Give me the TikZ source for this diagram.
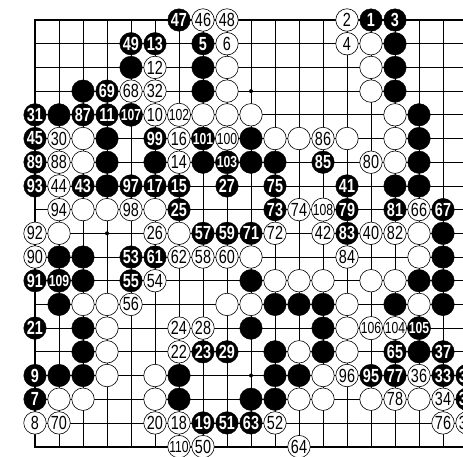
\documentclass[tikz,border=0pt]{standalone}
\usepackage{fontspec}
\usepackage{tikz}
\newfontfamily\gofont[FakeStretch=0.76]{Liberation Sans}
\newcommand\movenum[1]{\ifnum#1>99 \fontsize{16}{16}\selectfont\else\fontsize{19}{19}\selectfont\fi#1}

\begin{document}
\begin{tikzpicture}[x=24pt,y=-23.7pt,
	gridline/.style={line width=0.7pt},
	edgeline/.style={line width=1.8pt},
	wstone/.style={circle,draw=black,line width=0.6pt,fill=white,minimum size=22.5pt,inner sep=0pt,font=\gofont},
	bstone/.style={circle,draw=black,fill=black,minimum size=22.5pt,inner sep=0pt,text=white,font=\gofont\bfseries}]
	\useasboundingbox (-35pt,20pt) rectangle (428pt,-436pt);
	\clip (-35pt,20pt) rectangle (428pt,-436pt);
	\foreach \i in {1,...,18} \draw[gridline] (\i,0)--(\i,18);
	\foreach \j in {1,...,17} \draw[gridline] (0,\j)--(18.6,\j);
	\draw[edgeline] (18.6,0)--(0,0)--(0,18)--(18.6,18);
	\foreach \a in {3,9,15} \foreach \b in {3,9,15} \fill (\a,\b) circle (2pt);
	\foreach \c/\r in {15/1,4/2,7/2,15/2,2/3,7/3,15/3,1/4,16/4,3/5,9/5,16/5,3/6,5/6,7/6,9/6,10/6,16/6,3/7,15/7,16/7,17/9,1/10,2/10,17/10,2/11,9/11,16/11,17/11,1/12,10/12,11/12,12/12,15/12,17/12,2/13,9/13,12/13,2/14,10/14,12/14,16/14,1/15,2/15,6/15,10/15,11/15,6/16,9/16,10/16}
		\node[bstone] (b\c-\r) at (\c,\r) {};
	\foreach \c/\r in {14/1,8/2,14/2,8/3,14/3,7/4,8/4,9/4,15/4,2/5,10/5,11/5,13/5,15/5,2/6,15/6,2/8,3/8,5/8,1/9,6/9,16/9,9/10,16/10,10/11,11/11,12/11,14/11,15/11,2/12,3/12,8/12,9/12,13/12,16/12,3/13,13/13,3/14,11/14,13/14,3/15,5/15,12/15,1/16,2/16,5/16,11/16,12/16,14/16,16/16}
		\node[wstone] (w\c-\r) at (\c,\r) {};
	\foreach \c/\r/\n in {6/0/47,14/0/1,15/0/3,4/1/49,5/1/13,7/1/5,3/3/69,0/4/31,2/4/87,3/4/11,4/4/107,0/5/45,5/5/99,7/5/101,0/6/89,8/6/103,12/6/85,0/7/93,2/7/43,4/7/97,5/7/17,6/7/15,8/7/27,10/7/75,13/7/41,6/8/25,10/8/73,13/8/79,15/8/81,17/8/67,7/9/57,8/9/59,9/9/71,13/9/83,4/10/53,5/10/61,0/11/91,1/11/109,4/11/55,0/13/21,16/13/105,7/14/23,8/14/29,15/14/65,17/14/37,0/15/9,14/15/95,15/15/77,17/15/33,18/15/39,0/16/7,18/16/35,7/17/19,8/17/51,9/17/63}
		\node[bstone] (m\n) at (\c,\r) {\movenum{\n}};
	\foreach \c/\r/\n in {7/0/46,8/0/48,13/0/2,8/1/6,13/1/4,5/2/12,4/3/68,5/3/32,5/4/10,6/4/102,1/5/30,6/5/16,8/5/100,12/5/86,1/6/88,6/6/14,14/6/80,1/7/44,1/8/94,4/8/98,11/8/74,12/8/108,16/8/66,0/9/92,5/9/26,10/9/72,12/9/42,14/9/40,15/9/82,0/10/90,6/10/62,7/10/58,8/10/60,13/10/84,5/11/54,4/12/56,6/13/24,7/13/28,14/13/106,15/13/104,6/14/22,13/15/96,16/15/36,15/16/78,17/16/34,0/17/8,1/17/70,5/17/20,6/17/18,10/17/52,17/17/76,18/17/38,6/18/110,7/18/50,11/18/64}
		\node[wstone] (m\n) at (\c,\r) {\movenum{\n}};
\end{tikzpicture}
\end{document}
